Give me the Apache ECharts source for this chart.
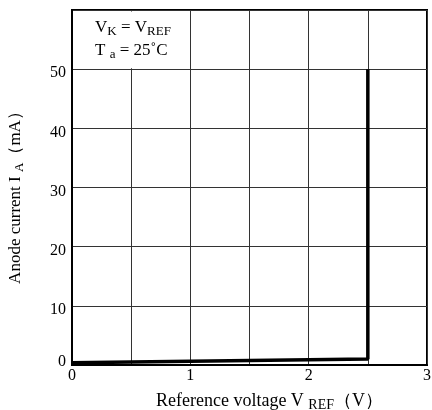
<!DOCTYPE html>
<html><head><meta charset="utf-8">
<script src="https://cdn.jsdelivr.net/npm/echarts@6/dist/echarts.min.js"></script>
<style>html,body{margin:0;padding:0;background:#fff}#c{width:432px;height:410px}</style>
</head><body><div id="c"></div>
<script>
const voltage = [0, 2.5, 2.5];
const current = [0.4, 1.0, 50];
const xTickLabels = [0, 1, 2, 3];
const yTickLabels = [0, 10, 20, 30, 40, 50];
const legendBox = {x0: 0, x1: 1, y0: 50, y1: 60};

const font = '"Liberation Serif","Times New Roman",serif';
const chart = echarts.init(document.getElementById('c'), null, {renderer: 'canvas'});
chart.setOption({
  animation: false,
  grid: {left: 72, top: 10, right: 5, bottom: 45, show: true, borderColor: '#000', borderWidth: 2,
    backgroundColor: '#fff', outerBoundsMode: 'none', containLabel: false},
  xAxis: {
    type: 'value', min: 0, max: 3, interval: 0.5,
    axisLine: {show: true, lineStyle: {color: '#000', width: 2}},
    axisTick: {show: false},
    splitLine: {show: true, lineStyle: {color: '#333', width: 1}},
    axisLabel: {color: '#000', fontFamily: font, fontSize: 16, margin: 3,
      formatter: v => xTickLabels.includes(v) ? String(v) : ''},
    name: 'Reference voltage V {s|REF}（V）',
    nameLocation: 'middle', nameGap: 26,
    nameTextStyle: {color: '#000', fontFamily: font, fontSize: 18, padding: [0, 0, 0, 40],
      rich: {s: {fontFamily: font, fontSize: 14, color: '#000', padding: [7, 0, 0, 0]}}}
  },
  yAxis: {
    type: 'value', min: 0, max: 60, interval: 10,
    axisLine: {show: true, lineStyle: {color: '#000', width: 2}},
    axisTick: {show: false},
    splitLine: {show: true, lineStyle: {color: '#333', width: 1}},
    axisLabel: {color: '#000', fontFamily: font, fontSize: 16, margin: 6,
      formatter: v => yTickLabels.includes(v) ? (v === 0 ? '{z|0}' : '{n|' + v + '}') : '',
      rich: {
        z: {fontFamily: font, fontSize: 16, color: '#000', padding: [0, 0, 7, 0]},
        n: {fontFamily: font, fontSize: 16, color: '#000', padding: [8, 0, 0, 0]}
      }},
    name: 'Anode current I {s|A}（mA）',
    nameLocation: 'middle', nameGap: 46, nameRotate: 90,
    nameTextStyle: {color: '#000', fontFamily: font, fontSize: 17, padding: [0, 12, 0, 0],
      rich: {s: {fontFamily: font, fontSize: 13, color: '#000', padding: [7, 0, 0, 0]}}}
  },
  series: [{
    type: 'line', showSymbol: false, symbol: 'none',
    data: voltage.map((v, i) => [v, current[i]]),
    lineStyle: {color: '#000', width: 3.5}
  }]
});
const p0 = chart.convertToPixel({gridIndex: 0}, [legendBox.x0, legendBox.y1]);
const p1 = chart.convertToPixel({gridIndex: 0}, [legendBox.x1, legendBox.y0]);
chart.setOption({
  graphic: [
    {type: 'rect', z: 10, shape: {x: p0[0] + 1.5, y: p0[1] + 1.5, width: p1[0] - p0[0] - 2.5, height: p1[1] - p0[1] - 2.5},
      style: {fill: '#fff'}},
    {type: 'text', z: 11, left: 95, top: 19, style: {
      text: 'V{s|K} = V{s|REF}', fontFamily: font, fontSize: 17, fill: '#000',
      rich: {s: {fontFamily: font, fontSize: 13, fill: '#000', padding: [8, 0, 0, 0]}}}},
    {type: 'text', z: 11, left: 95, top: 42, style: {
      text: 'T {s|a} = 25˚C', fontFamily: font, fontSize: 17, fill: '#000',
      rich: {s: {fontFamily: font, fontSize: 13, fill: '#000', padding: [8, 0, 0, 0]}}}}
  ]
});
</script></body></html>
